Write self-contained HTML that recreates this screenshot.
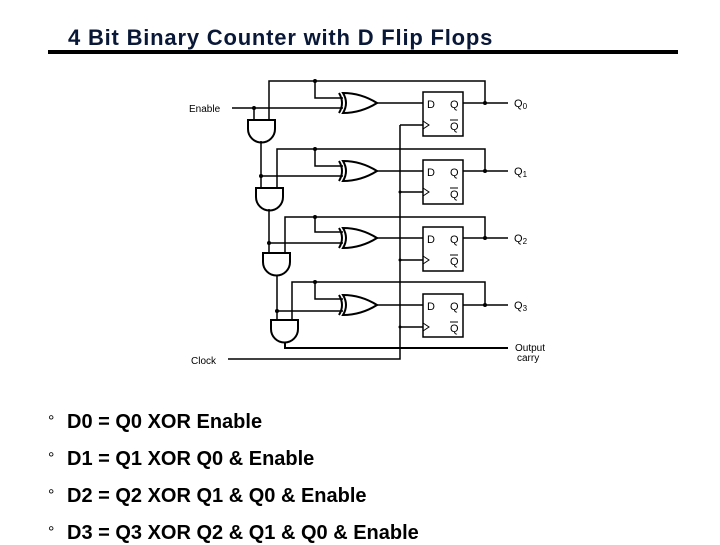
<!DOCTYPE html>
<html><head><style>
body{margin:0;background:#fff;width:720px;height:540px;overflow:hidden;position:relative;font-family:"Liberation Sans",sans-serif}
.t{position:absolute;left:68px;top:25px;font-size:22px;font-weight:bold;letter-spacing:0.8px;color:#0a1838;white-space:nowrap}
.rule{position:absolute;left:48px;top:50px;width:630px;height:4px;background:#000}
.b{position:absolute;left:48px;font-size:20px;font-weight:bold;color:#000;white-space:nowrap}
.b span{display:inline-block;width:19px;font-weight:normal;font-size:16px;vertical-align:2px}
</style></head><body>
<div class="t">4 Bit Binary Counter with D Flip Flops</div>
<div class="rule"></div>
<svg width="720" height="540" style="position:absolute;left:0;top:0" font-family="Liberation Sans,sans-serif">
<g stroke="#000" stroke-width="1.5" fill="none">
<path d="M228,359 H400 V125"/>
<path d="M400,125 H423 M400,192 H423 M400,260 H423 M400,327 H423"/>
<rect x="423" y="92" width="40" height="44"/>
<rect x="423" y="160" width="40" height="44"/>
<rect x="423" y="227" width="40" height="44"/>
<rect x="423" y="294" width="40" height="43"/>
<path d="M423,121 L429,125 L423,129 M423,188 L429,192 L423,196 M423,256 L429,260 L423,264 M423,323 L429,327 L423,331" stroke-width="1"/>
<path d="M463,103 H508 M463,171 H508 M463,238 H508 M463,305 H508"/>
<path d="M269,120 V81 H485 V103 M315,81 V98 H343 M232,108 H343 M254,108 V120"/>
<path d="M377,103 H423"/>
<path d="M277,188 V149 H485 V171 M315,149 V166 H343 M261,141 V188 M261,176 H343 M377,171 H423"/>
<path d="M285,253 V217 H485 V238 M315,217 V232 H343 M269,209 V253 M269,243 H343 M377,238 H423"/>
<path d="M292,320 V282 H485 V305 M315,282 V299 H343 M277,275 V320 M277,311 H343 M377,305 H423"/>
<path d="M285,342 V348 H508" stroke-width="2"/>
<g stroke-width="2">
<path d="M343,93 Q361,93 377,103 Q361,113 343,113 Q349,103 343,93 Z M339,93 Q345,103 339,113"/>
<path d="M343,161 Q361,161 377,171 Q361,181 343,181 Q349,171 343,161 Z M339,161 Q345,171 339,181"/>
<path d="M343,228 Q361,228 377,238 Q361,248 343,248 Q349,238 343,228 Z M339,228 Q345,238 339,248"/>
<path d="M343,295 Q361,295 377,305 Q361,315 343,315 Q349,305 343,295 Z M339,295 Q345,305 339,315"/>
<path d="M248,120 H275 V129 A13.5,13.5 0 0 1 248,129 Z"/>
<path d="M256,188 H283 V197 A13.5,13.5 0 0 1 256,197 Z"/>
<path d="M263,253 H290 V262 A13.5,13.5 0 0 1 263,262 Z"/>
<path d="M271,320 H298 V329 A13.5,13.5 0 0 1 271,329 Z"/>
</g>
</g>
<g fill="#000">
<circle cx="315" cy="81" r="2"/><circle cx="485" cy="103" r="2"/><circle cx="254" cy="108" r="2"/>
<circle cx="315" cy="149" r="2"/><circle cx="485" cy="171" r="2"/><circle cx="261" cy="176" r="2"/>
<circle cx="315" cy="217" r="2"/><circle cx="485" cy="238" r="2"/><circle cx="269" cy="243" r="2"/>
<circle cx="315" cy="282" r="2"/><circle cx="485" cy="305" r="2"/><circle cx="277" cy="311" r="2"/>
<circle cx="400" cy="192" r="1.5"/><circle cx="400" cy="260" r="1.5"/><circle cx="400" cy="327" r="1.5"/>
</g>
<g font-size="10" fill="#000">
<text x="189" y="112">Enable</text>
<text x="191" y="364">Clock</text>
<text x="515" y="351">Output</text>
<text x="517" y="361">carry</text>
<text x="514" y="107" font-size="11">Q<tspan font-size="8" dy="2">0</tspan></text>
<text x="514" y="175" font-size="11">Q<tspan font-size="8" dy="2">1</tspan></text>
<text x="514" y="242" font-size="11">Q<tspan font-size="8" dy="2">2</tspan></text>
<text x="514" y="309" font-size="11">Q<tspan font-size="8" dy="2">3</tspan></text>
<g font-size="11">
<text x="427" y="108">D</text><text x="450" y="108">Q</text><text x="450" y="130">Q</text>
<text x="427" y="176">D</text><text x="450" y="176">Q</text><text x="450" y="198">Q</text>
<text x="427" y="243">D</text><text x="450" y="243">Q</text><text x="450" y="265">Q</text>
<text x="427" y="310">D</text><text x="450" y="310">Q</text><text x="450" y="332">Q</text>
</g>
</g>
<path d="M450,120 h8 M450,188 h8 M450,255 h8 M450,322 h8" stroke="#000" stroke-width="1"/>
</svg>
<div class="b" style="top:411px"><span>°</span>D0 = Q0 XOR Enable</div>
<div class="b" style="top:448px"><span>°</span>D1 = Q1 XOR Q0 &amp; Enable</div>
<div class="b" style="top:485px"><span>°</span>D2 = Q2 XOR Q1 &amp; Q0 &amp; Enable</div>
<div class="b" style="top:522px"><span>°</span>D3 = Q3 XOR Q2 &amp; Q1 &amp; Q0 &amp; Enable</div>
</body></html>
